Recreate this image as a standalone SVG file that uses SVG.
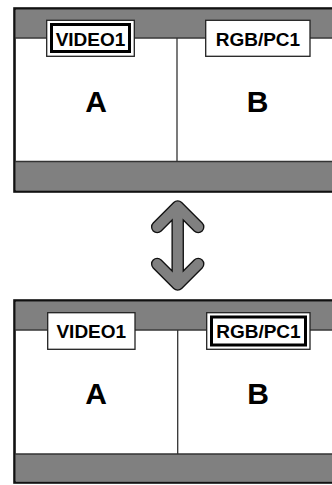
<svg xmlns="http://www.w3.org/2000/svg" width="332" height="485" viewBox="0 0 332 485">
<style>
.frame{fill:#fff;stroke:#111;stroke-width:2.6}
.band{fill:#808080}
.thin{stroke:#333;stroke-width:1.3;fill:none}
.lbl{fill:#fff;stroke:#222;stroke-width:1.3}
.sel{fill:none;stroke:#000;stroke-width:3}
.lt{font-family:"Liberation Sans",Arial,sans-serif;font-weight:bold;font-size:19px;text-anchor:middle;fill:#000}
.big{font-family:"Liberation Sans",Arial,sans-serif;font-weight:bold;font-size:30px;text-anchor:middle;fill:#000}
</style>
<rect width="332" height="485" fill="#fff"/>
<g id="panel-top">
<rect class="frame" x="14.5" y="8.5" width="330" height="183"/>
<rect class="band" x="15.8" y="9.8" width="330" height="28"/>
<rect class="band" x="15.8" y="161.5" width="330" height="29"/>
<line class="thin" x1="15" y1="38" x2="332" y2="38"/>
<line class="thin" x1="15" y1="161.5" x2="332" y2="161.5"/>
<line class="thin" x1="177" y1="38" x2="177" y2="161.5"/>
<rect class="lbl" x="46.7" y="20.3" width="87.6" height="36"/>
<rect class="sel" x="51.5" y="24.5" width="78" height="27"/>
<text class="lt" x="90.5" y="45.5">VIDEO1</text>
<rect class="lbl" x="205.7" y="20.3" width="104.3" height="36"/>
<text class="lt" x="257.9" y="45.5">RGB/PC1</text>
<text class="big" x="96" y="111.5">A</text>
<text class="big" x="257.5" y="111.5">B</text>
</g>
<g id="arrow">
<path d="M157.2 227 L177.7 206.5 L198.2 227 M177.7 206.5 L177.7 284.5 M157.2 264 L177.7 284.5 L198.2 264" fill="none" stroke="#111" stroke-width="12.5" stroke-linecap="round" stroke-linejoin="round"/>
<path d="M157.2 227 L177.7 206.5 L198.2 227 M177.7 206.5 L177.7 284.5 M157.2 264 L177.7 284.5 L198.2 264" fill="none" stroke="#808080" stroke-width="9.8" stroke-linecap="round" stroke-linejoin="round"/>
</g>
<g id="panel-bottom">
<rect class="frame" x="14.5" y="300.5" width="330" height="182"/>
<rect class="band" x="15.8" y="301.8" width="330" height="28"/>
<rect class="band" x="15.8" y="454" width="330" height="27.7"/>
<line class="thin" x1="15" y1="330" x2="332" y2="330"/>
<line class="thin" x1="15" y1="454" x2="332" y2="454"/>
<line class="thin" x1="177.7" y1="330" x2="177.7" y2="454"/>
<rect class="lbl" x="47.7" y="312.7" width="87.3" height="36.6"/>
<text class="lt" x="91.3" y="338">VIDEO1</text>
<rect class="lbl" x="206.7" y="312.7" width="103.3" height="36.6"/>
<rect class="sel" x="211.5" y="317" width="94" height="28"/>
<text class="lt" x="258.4" y="338">RGB/PC1</text>
<text class="big" x="96" y="403.5">A</text>
<text class="big" x="258" y="403.5">B</text>
</g>
</svg>
